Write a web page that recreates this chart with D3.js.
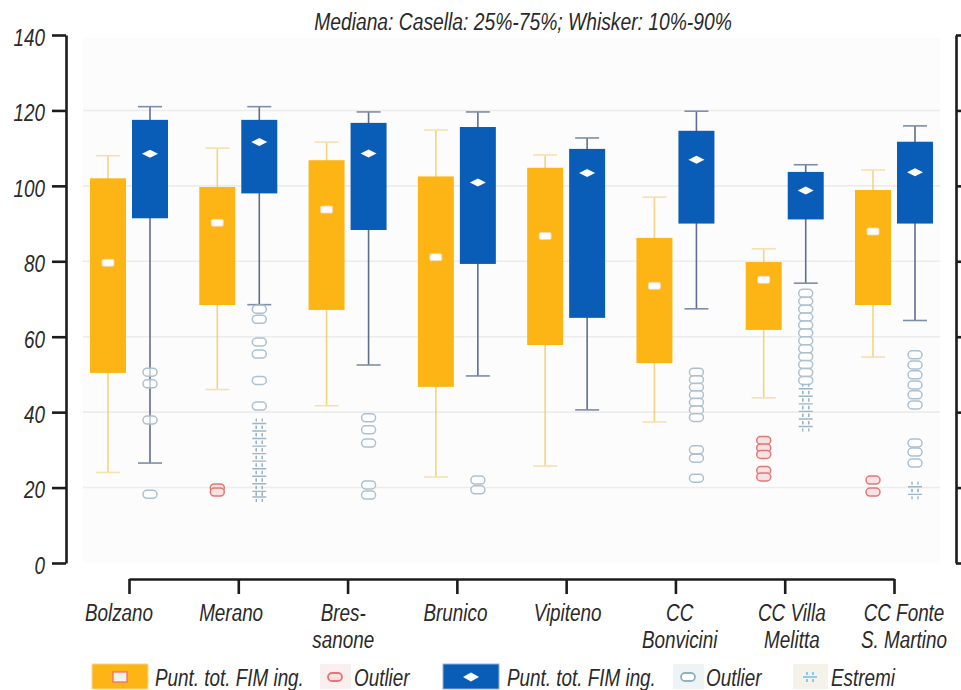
<!DOCTYPE html>
<html>
<head>
<meta charset="utf-8">
<script src="https://cdn.jsdelivr.net/npm/d3@7/dist/d3.min.js"></script>
<style>
  html, body { margin: 0; padding: 0; background: #ffffff; }
  svg { display: block; }
</style>
</head>
<body>
<svg id="chart" width="961" height="690"></svg>
<script>
// ---------------- DATA ----------------
const categories = ["Bolzano", "Merano", "Bressanone", "Brunico", "Vipiteno", "CC Bonvicini", "CC Villa Melitta", "CC Fonte S. Martino"];
const categoryLines = [["Bolzano"], ["Merano"], ["Bres-", "sanone"], ["Brunico"], ["Vipiteno"], ["CC", "Bonvicini"], ["CC Villa", "Melitta"], ["CC Fonte", "S. Martino"]];
const yTicks = [0, 20, 40, 60, 80, 100, 120, 140];
const titleText = "Mediana: Casella: 25%-75%; Whisker: 10%-90%";

// Orange series (Punt. tot. FIM ing. - first)
const orangeWhiskerLow  = [24.0, 46.0, 41.7, 22.8, 25.7, 37.4, 43.8, 54.6];
const orangeQ1          = [50.4, 68.4, 67.1, 46.7, 57.8, 53.0, 61.8, 68.4];
const orangeMedian      = [79.6, 90.2, 93.7, 81.1, 86.7, 73.5, 75.1, 87.9];
const orangeQ3          = [102.0, 99.7, 106.8, 102.5, 104.8, 86.2, 79.8, 98.9];
const orangeWhiskerHigh = [108.0, 110.0, 111.6, 114.8, 108.2, 97.0, 83.3, 104.2];
const orangeOutliers    = [[], [19.9, 18.8], [], [], [], [], [32.5, 30.5, 28.8, 24.5, 22.8], [22.0, 18.8]];

// Blue series (Punt. tot. FIM ing. - second)
const blueWhiskerLow  = [26.5, 68.5, 52.5, 49.6, 40.6, 67.4, 74.2, 64.3];
const blueQ1          = [91.4, 98.0, 88.3, 79.3, 65.0, 90.0, 91.1, 90.0];
const blueMedian      = [108.5, 111.6, 108.6, 100.9, 103.4, 106.9, 98.8, 103.6];
const blueQ3          = [117.5, 117.5, 116.7, 115.6, 109.8, 114.6, 103.7, 111.7];
const blueWhiskerHigh = [121.0, 121.0, 119.6, 119.6, 112.7, 119.8, 105.6, 115.9];
const blueOutliers    = [
  [50.6, 47.5, 37.9, 18.2],
  [67.3, 64.6, 58.6, 55.4, 48.4, 41.6],
  [38.5, 35.3, 31.8, 20.7, 18.0],
  [22.0, 19.4],
  [],
  [50.6, 48.6, 46.6, 44.6, 42.6, 40.6, 38.6, 30.0, 27.8, 22.5],
  [71.5, 69.4, 67.3, 65.2, 63.1, 61.0, 58.9, 56.8, 54.7, 52.6, 50.5, 48.4],
  [55.2, 52.5, 49.9, 47.2, 44.6, 41.9, 31.8, 29.4, 26.5]
];
const blueExtremes    = [
  [],
  [37.0, 35.0, 33.0, 31.0, 29.0, 27.0, 25.0, 23.0, 21.0, 19.0, 17.5],
  [],
  [],
  [],
  [],
  [46.2, 44.2, 42.2, 40.2, 38.2, 36.2],
  [20.2, 18.2]
];

const legendLabels = ["Punt. tot. FIM ing.", "Outlier", "Punt. tot. FIM ing.", "Outlier", "Estremi"];

// ---------------- FONT ----------------
function fontAvailable(name) {
  const c = document.createElement("canvas").getContext("2d");
  const s = "Bolzano Punt. tot. FIM ing. 140";
  c.font = "23px monospace";
  const a = c.measureText(s).width;
  c.font = `23px "${name}", monospace`;
  const b = c.measureText(s).width;
  return Math.abs(a - b) > 0.5;
}
const HAS_NARROW = fontAvailable("Liberation Sans Narrow");
const FONT = HAS_NARROW ? '"Liberation Sans Narrow", sans-serif' : '"Liberation Sans", Arial, sans-serif';
const SQUEEZE = HAS_NARROW ? 1 : 0.82;
function condense(sel) {
  if (SQUEEZE === 1) return;
  sel.each(function () {
    const L = this.getComputedTextLength();
    d3.select(this).attr("textLength", L * SQUEEZE).attr("lengthAdjust", "spacingAndGlyphs");
  });
}

// ---------------- COLORS ----------------
const ORANGE = "#fdb515";
const BLUE = "#0a5db6";
const TEXT = "#2a2a2a";
const AXIS = "#1c1c1c";

// ---------------- SCALES ----------------
const svg = d3.select("#chart");
const y = d3.scaleLinear().domain([0, 140]).range([563, 35]);
const x = d3.scalePoint().domain(categories).range([129, 894]);
const xLabel = d3.scalePoint().domain(categories).range([119, 904]);
const sub = d3.scaleBand().domain(["orange", "blue"]).range([-39, 39]).paddingInner(0.143);
const bw = sub.bandwidth();

// plot background
svg.append("rect")
  .attr("x", 83).attr("y", 38).attr("width", 857).attr("height", y(0) - 38)
  .attr("fill", "#fcfcfc");

// gridlines
svg.append("g").selectAll("line")
  .data(yTicks.filter(t => t > 0 && t < 140))
  .join("line")
  .attr("x1", 83).attr("x2", 940)
  .attr("y1", d => y(d)).attr("y2", d => y(d))
  .attr("stroke", "#ececec").attr("stroke-width", 1.6);

// title
const title = svg.append("text")
  .attr("x", 523).attr("y", 30)
  .attr("text-anchor", "middle")
  .attr("font-family", FONT).attr("font-style", "italic")
  .attr("font-size", "23.5px").attr("fill", TEXT)
  .text(titleText);
condense(title);

// ---------------- BOXES ----------------
function series(key, lo, q1, med, q3, hi) {
  return categories.map((c, i) => ({ c, i, key, lo: lo[i], q1: q1[i], med: med[i], q3: q3[i], hi: hi[i] }));
}
const orangeData = series("orange", orangeWhiskerLow, orangeQ1, orangeMedian, orangeQ3, orangeWhiskerHigh);
const blueData = series("blue", blueWhiskerLow, blueQ1, blueMedian, blueQ3, blueWhiskerHigh);

const cx = d => x(d.c) + sub(d.key) + bw / 2;

function drawWhiskers(data, lineColor, capColor, op) {
  const g = svg.append("g").attr("opacity", op);
  g.selectAll(".wl").data(data).join("line")
    .attr("x1", cx).attr("x2", cx)
    .attr("y1", d => y(d.lo)).attr("y2", d => y(d.hi))
    .attr("stroke", lineColor).attr("stroke-width", 1.6);
  ["lo", "hi"].forEach(k => {
    g.selectAll(".cap" + k).data(data).join("line")
      .attr("x1", d => cx(d) - 12).attr("x2", d => cx(d) + 12)
      .attr("y1", d => y(d[k])).attr("y2", d => y(d[k]))
      .attr("stroke", capColor).attr("stroke-width", 1.6);
  });
}
drawWhiskers(orangeData, "#f1c44e", "#f3d690", 0.7);
drawWhiskers(blueData, "#5f6e8e", "#7f8da8", 1);

function drawBoxes(data, color) {
  svg.append("g").selectAll("rect").data(data).join("rect")
    .attr("x", d => x(d.c) + sub(d.key))
    .attr("width", bw)
    .attr("y", d => y(d.q3))
    .attr("height", d => y(d.q1) - y(d.q3))
    .attr("fill", color);
}
drawBoxes(orangeData, ORANGE);
drawBoxes(blueData, BLUE);

// medians
svg.append("g").selectAll("rect").data(orangeData).join("rect")
  .attr("x", d => cx(d) - 6).attr("y", d => y(d.med) - 3.5)
  .attr("width", 12).attr("height", 7).attr("rx", 1.5)
  .attr("fill", "#ffffff").attr("stroke", "#f6d4b8").attr("stroke-width", 0.8);
svg.append("g").selectAll("path").data(blueData).join("path")
  .attr("transform", d => `translate(${cx(d)},${y(d.med)})`)
  .attr("d", "M-8,0L0,-4L8,0L0,4Z")
  .attr("fill", "#ffffff");

// ---------------- OUTLIERS ----------------
function flatPoints(arr, key) {
  const out = [];
  arr.forEach((vals, i) => vals.forEach(v => out.push({ c: categories[i], key, v })));
  return out;
}
const ovalPath = "M-3,-4H3A4,4 0 0 1 3,4H-3A4,4 0 0 1 -3,-4Z";

svg.append("g").selectAll("path").data(flatPoints(blueOutliers, "blue")).join("path")
  .attr("transform", d => `translate(${cx(d)},${y(d.v)})`)
  .attr("d", ovalPath)
  .attr("fill", "#ffffff").attr("fill-opacity", 0.6)
  .attr("stroke", "#adc0cf").attr("stroke-width", 1.5);

svg.append("g").selectAll("path").data(flatPoints(orangeOutliers, "orange")).join("path")
  .attr("transform", d => `translate(${cx(d)},${y(d.v)})`)
  .attr("d", ovalPath)
  .attr("fill", "#fbe2e2")
  .attr("stroke", "#e07878").attr("stroke-width", 1.5);

const starPath = "M-7,0H7M-3,-5V-2M-3,2V5M3,-5V-2M3,2V5";
svg.append("g").selectAll("path").data(flatPoints(blueExtremes, "blue")).join("path")
  .attr("transform", d => `translate(${cx(d)},${y(d.v)})`)
  .attr("d", starPath)
  .attr("fill", "none")
  .attr("stroke", "#9db5c8").attr("stroke-width", 1.4);

// ---------------- AXES ----------------
function styleAxis(g) {
  g.selectAll("path.domain").attr("stroke", AXIS).attr("stroke-width", 2.6);
  g.selectAll(".tick line").attr("stroke", AXIS).attr("stroke-width", 2.6);
  g.selectAll(".tick text")
    .attr("font-family", FONT).attr("font-style", "italic")
    .attr("font-size", "23px").attr("fill", TEXT);
}

const yAxisL = svg.append("g").attr("transform", "translate(66,0)")
  .call(d3.axisLeft(y).tickValues(yTicks).tickSize(14).tickSizeOuter(0).tickPadding(7));
styleAxis(yAxisL);
yAxisL.selectAll(".tick text").attr("dy", "0.45em");
condense(yAxisL.selectAll(".tick text"));

const yAxisR = svg.append("g").attr("transform", "translate(956,0)")
  .call(d3.axisRight(y).tickValues(yTicks).tickSize(14).tickSizeOuter(0).tickFormat(() => ""));
styleAxis(yAxisR);

const xAxis = svg.append("g").attr("transform", "translate(0,579)")
  .call(d3.axisBottom(x).tickSize(15).tickSizeOuter(0).tickFormat(() => ""));
styleAxis(xAxis);

// category labels (multi-line, one text per line)
const lab = svg.append("g")
  .attr("font-family", FONT).attr("font-style", "italic")
  .attr("font-size", "23px").attr("fill", TEXT).attr("text-anchor", "middle");
categories.forEach((c, i) => {
  categoryLines[i].forEach((line, j) => {
    lab.append("text").attr("x", xLabel(c)).attr("y", 621 + j * 27).text(line);
  });
});
condense(lab.selectAll("text"));

// ---------------- LEGEND ----------------
const leg = svg.append("g");
const legY = 677;
// 1: orange box
leg.append("rect").attr("x", 92).attr("y", 664).attr("width", 56).attr("height", 25)
  .attr("fill", ORANGE).attr("stroke", "#f8d890").attr("stroke-width", 1);
leg.append("rect").attr("x", 113).attr("y", legY - 5).attr("width", 14).attr("height", 10)
  .attr("fill", "#f4f0ea").attr("stroke", "#ef6f6f").attr("stroke-width", 1.3);
// 2: red outlier
leg.append("rect").attr("x", 320).attr("y", 664).attr("width", 31).attr("height", 25).attr("fill", "#fbeeee");
leg.append("path").attr("transform", `translate(335,${legY})`).attr("d", ovalPath)
  .attr("fill", "#fbe2e2").attr("stroke", "#e07878").attr("stroke-width", 1.8);
// 3: blue box
leg.append("rect").attr("x", 443).attr("y", 664).attr("width", 56).attr("height", 25)
  .attr("fill", BLUE).attr("stroke", "#8fb3dc").attr("stroke-width", 1);
leg.append("path").attr("transform", `translate(471,${legY})`).attr("d", "M-8,0L0,-4.5L8,0L0,4.5Z").attr("fill", "#ffffff");
// 4: blue outlier
leg.append("rect").attr("x", 673).attr("y", 664).attr("width", 31).attr("height", 25).attr("fill", "#eef3f6");
leg.append("path").attr("transform", `translate(688,${legY})`).attr("d", ovalPath)
  .attr("fill", "#ffffff").attr("stroke", "#8fb2c8").attr("stroke-width", 1.8);
// 5: extremes
leg.append("rect").attr("x", 793).attr("y", 664).attr("width", 35).attr("height", 25).attr("fill", "#f5f2ea");
leg.append("path").attr("transform", `translate(810,${legY})`).attr("d", starPath)
  .attr("fill", "none").attr("stroke", "#6fc0e8").attr("stroke-width", 1.6);

const legTextX = [155, 354, 507, 706, 831];
const legTexts = leg.selectAll("text.lt").data(legendLabels).join("text")
  .attr("class", "lt")
  .attr("x", (d, i) => legTextX[i]).attr("y", 686)
  .attr("font-family", FONT).attr("font-style", "italic")
  .attr("font-size", "23px").attr("fill", TEXT)
  .text(d => d);
condense(legTexts);
</script>
</body>
</html>
